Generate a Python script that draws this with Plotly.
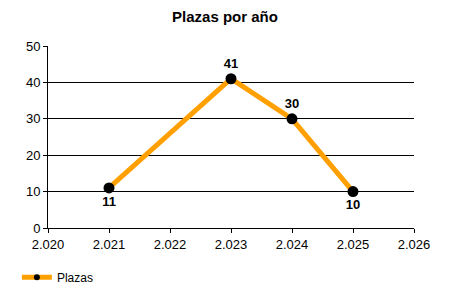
import plotly.graph_objects as go

years = [2021, 2023, 2024, 2025]
plazas = [11, 41, 30, 10]
label_pos = ["bottom center", "top center", "top center", "bottom center"]
x_ticks = [2020, 2021, 2022, 2023, 2024, 2025, 2026]
x_tick_text = ["2.020", "2.021", "2.022", "2.023", "2.024", "2.025", "2.026"]
y_ticks = [0, 10, 20, 30, 40, 50]

fig = go.Figure()
fig.add_trace(go.Scatter(
    x=years, y=plazas, name="Plazas",
    mode="lines+markers+text",
    text=[str(v) for v in plazas],
    textposition=label_pos,
    textfont=dict(family="Liberation Sans, Arial", size=13, color="black", weight="bold"),
    line=dict(color="#FFA000", width=5),
    marker=dict(color="black", size=11),
    cliponaxis=False,
    showlegend=False,
))
# legend entry with smaller marker
fig.add_trace(go.Scatter(
    x=[None], y=[None], name="Plazas", mode="lines+markers",
    line=dict(color="#FFA000", width=5),
    marker=dict(color="black", size=6),
    showlegend=True,
))

fig.update_layout(
    width=450, height=300,
    margin=dict(l=48, r=36, t=46, b=72, autoexpand=False),
    paper_bgcolor="white", plot_bgcolor="white",
    font=dict(family="Liberation Sans, Arial", size=13, color="black"),
    title=dict(text="<b>Plazas por año</b>", x=0.5, xanchor="center", y=0.945, yanchor="middle",
               font=dict(size=15, color="black")),
    showlegend=True,
    legend=dict(x=-0.085, xref="paper", y=-0.27, yref="paper", yanchor="middle",
                xanchor="left", font=dict(size=12), bgcolor="rgba(0,0,0,0)", itemwidth=30),
    xaxis=dict(range=[2020, 2026], tickvals=x_ticks, ticktext=x_tick_text,
               showgrid=False, showline=True, linecolor="black", linewidth=1,
               ticks="outside", ticklen=4, tickcolor="black", zeroline=False),
    yaxis=dict(range=[0, 50], tickvals=y_ticks, showgrid=True, gridcolor="black", gridwidth=1,
               showline=True, linecolor="black", linewidth=1,
               ticks="outside", ticklen=4, tickcolor="black", zeroline=False),
)

fig.write_html("out.html")
